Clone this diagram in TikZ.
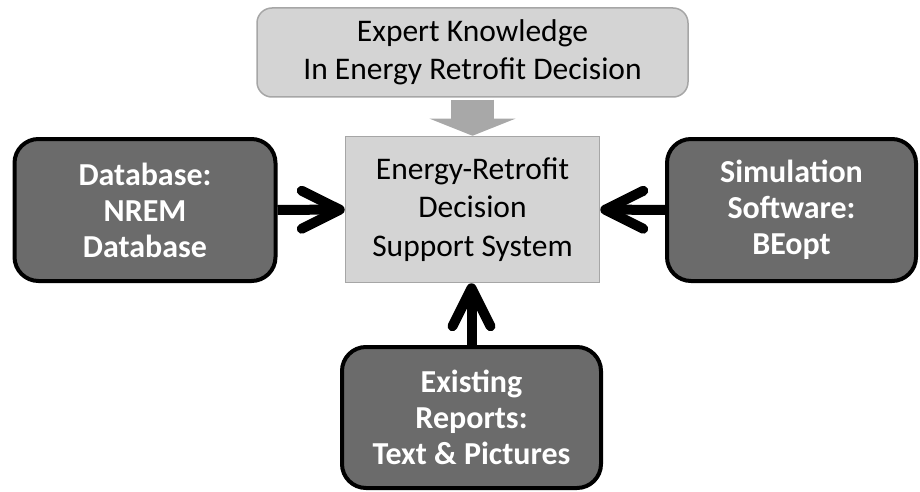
\documentclass[tikz,border=0pt]{standalone}
\usepackage{fontspec}
\setmainfont{Carlito}
\usetikzlibrary{arrows.meta,positioning,calc}

\begin{document}
\begin{tikzpicture}[x=1pt, y=1pt,
  lightbox/.style={draw=black!35, fill=black!17, line width=1.5pt, align=center, inner sep=0pt,
    font=\fontsize{31.5}{38.5}\selectfont},
  darkbox/.style={draw=black, fill=black!58, line width=4pt, rounded corners=24pt, align=center,
    inner sep=0pt, text=white, font=\fontsize{32}{36}\selectfont\bfseries},
  feed/.style={line width=10pt, -{Straight Barb[length=38pt,width=38pt,round]}}]
\useasboundingbox (0,0) rectangle (920,491);
\node[lightbox, rounded corners=15pt, minimum width=431pt, minimum height=89pt] (know) at (472.5,438.5)
  {Expert Knowledge\\In Energy Retrofit Decision};
\node[lightbox, minimum width=254pt, minimum height=146pt] (dss) at (472.5,281.5)
  {Energy-Retrofit\\Decision\\Support System};
\node[darkbox, minimum width=261pt, minimum height=142pt] (db)  at (145,281)
  {Database:\\NREM\\Database};
\node[darkbox, minimum width=249pt, minimum height=142pt] (sim) at (791.5,281)
  {Simulation\\Software:\\BEopt};
\node[darkbox, minimum width=259pt, minimum height=141pt] (rep) at (471.5,73.5)
  {Existing\\Reports:\\Text \& Pictures};
\draw[black!34, line width=43pt, -{Triangle[length=17pt,width=85pt]}] ($(know.south)+(0,-2)$) -- (dss.north);
\draw[feed] (db)  -- (dss);
\draw[feed] (sim) -- (dss);
\draw[feed] (rep.north) -- (rep.north |- dss.south);
\end{tikzpicture}
\end{document}
